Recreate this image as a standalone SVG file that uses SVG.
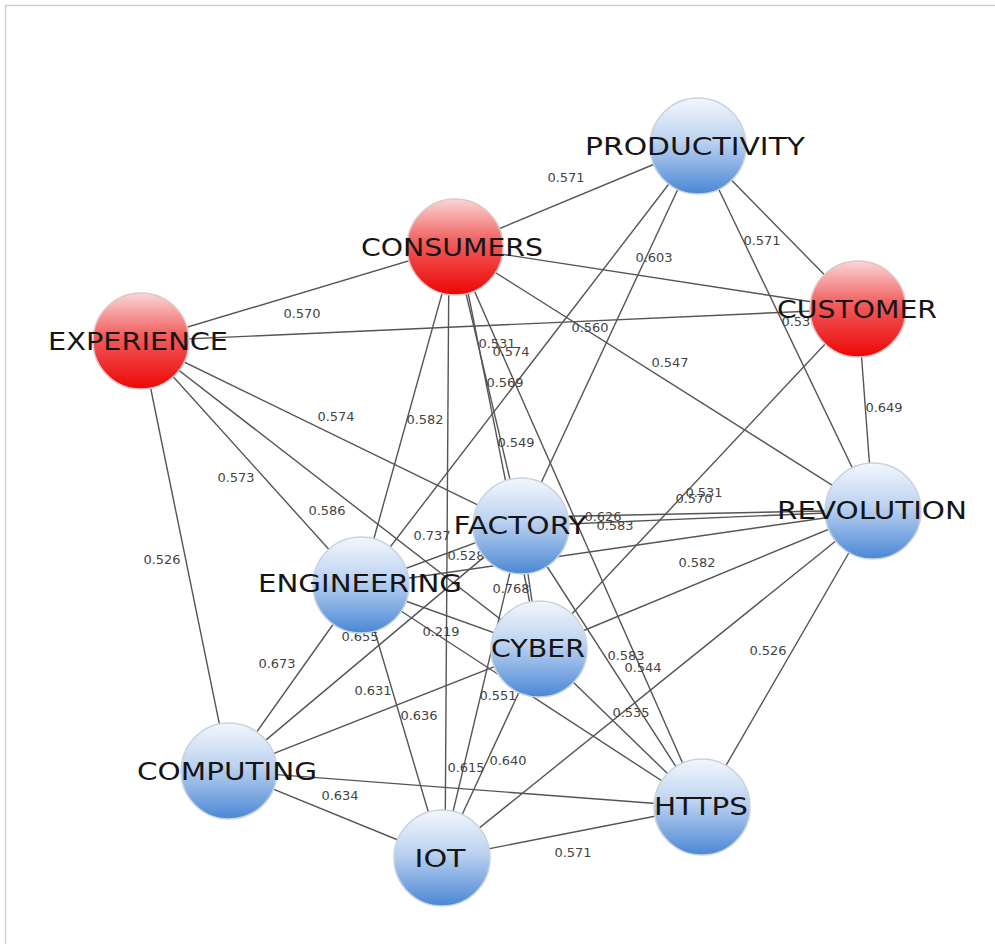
<svg xmlns="http://www.w3.org/2000/svg" width="995" height="944" viewBox="0 0 995 944">
<defs>
<linearGradient id="gBlue" x1="0" y1="0" x2="0" y2="1">
<stop offset="0" stop-color="#f3f7fd"/>
<stop offset="0.45" stop-color="#bcd2f0"/>
<stop offset="1" stop-color="#4a87d6"/>
</linearGradient>
<linearGradient id="gRed" x1="0" y1="0" x2="0" y2="1">
<stop offset="0" stop-color="#f9d6d6"/>
<stop offset="0.45" stop-color="#f25c5c"/>
<stop offset="1" stop-color="#ec0606"/>
</linearGradient>
</defs>
<style>
.e{stroke:#555;stroke-width:1.4;fill:none}
.w{font-family:"DejaVu Sans","Liberation Sans",sans-serif;font-size:13px;fill:#444;text-anchor:middle}
.b{fill:url(#gBlue);stroke:#c9d3de;stroke-width:1.5}
.r{fill:url(#gRed);stroke:#e3c4c4;stroke-width:1.5}
.t{font-family:"DejaVu Sans","Liberation Sans",sans-serif;font-size:25px;fill:#151515;text-anchor:middle}
</style>
<rect width="995" height="944" fill="#fff"/>
<path d="M5.5 944V5.5H995" stroke="#cfcfcf" stroke-width="1.5" fill="none"/>
<g id="connectors">
<line class="e" x1="455" y1="247" x2="698" y2="146"/>
<line class="e" x1="141" y1="341" x2="455" y2="247"/>
<line class="e" x1="455" y1="247" x2="858" y2="309"/>
<line class="e" x1="141" y1="341" x2="858" y2="309"/>
<line class="e" x1="698" y1="146" x2="858" y2="309"/>
<line class="e" x1="698" y1="146" x2="361" y2="585"/>
<line class="e" x1="698" y1="146" x2="521" y2="526"/>
<line class="e" x1="698" y1="146" x2="873" y2="511"/>
<line class="e" x1="455" y1="247" x2="873" y2="511"/>
<line class="e" x1="858" y1="309" x2="873" y2="511"/>
<line class="e" x1="858" y1="309" x2="539" y2="649"/>
<line class="e" x1="455" y1="247" x2="361" y2="585"/>
<line class="e" x1="449" y1="247" x2="445" y2="858"/>
<line class="e" x1="455" y1="247" x2="521" y2="526"/>
<line class="e" x1="459" y1="247" x2="539" y2="649"/>
<line class="e" x1="455" y1="247" x2="702" y2="807"/>
<line class="e" x1="141" y1="341" x2="521" y2="526"/>
<line class="e" x1="141" y1="341" x2="361" y2="585"/>
<line class="e" x1="141" y1="341" x2="539" y2="649"/>
<line class="e" x1="141" y1="341" x2="229" y2="771"/>
<line class="e" x1="361" y1="585" x2="521" y2="526"/>
<line class="e" x1="361" y1="585" x2="873" y2="511"/>
<line class="e" x1="361" y1="585" x2="539" y2="649"/>
<line class="e" x1="361" y1="585" x2="702" y2="807"/>
<line class="e" x1="361" y1="585" x2="229" y2="771"/>
<line class="e" x1="361" y1="585" x2="442" y2="858"/>
<line class="e" x1="521" y1="526" x2="539" y2="649"/>
<line class="e" x1="521" y1="526" x2="873" y2="511"/>
<line class="e" x1="530" y1="517" x2="873" y2="510"/>
<line class="e" x1="521" y1="526" x2="702" y2="807"/>
<line class="e" x1="521" y1="526" x2="442" y2="858"/>
<line class="e" x1="521" y1="526" x2="229" y2="771"/>
<line class="e" x1="539" y1="649" x2="873" y2="511"/>
<line class="e" x1="539" y1="649" x2="702" y2="807"/>
<line class="e" x1="539" y1="649" x2="229" y2="771"/>
<line class="e" x1="539" y1="649" x2="442" y2="858"/>
<line class="e" x1="873" y1="511" x2="702" y2="807"/>
<line class="e" x1="873" y1="511" x2="442" y2="858"/>
<line class="e" x1="229" y1="771" x2="702" y2="807"/>
<line class="e" x1="229" y1="771" x2="442" y2="858"/>
<line class="e" x1="442" y1="858" x2="702" y2="807"/>
</g>
<g id="weights">
<text class="w" x="566" y="182">0.571</text>
<text class="w" x="762" y="245">0.571</text>
<text class="w" x="654" y="262">0.603</text>
<text class="w" x="590" y="332">0.560</text>
<text class="w" x="670" y="367">0.547</text>
<text class="w" x="800" y="326">0.531</text>
<text class="w" x="302" y="318">0.570</text>
<text class="w" x="336" y="421">0.574</text>
<text class="w" x="236" y="482">0.573</text>
<text class="w" x="327" y="515">0.586</text>
<text class="w" x="162" y="564">0.526</text>
<text class="w" x="425" y="424">0.582</text>
<text class="w" x="497" y="348">0.531</text>
<text class="w" x="511" y="356">0.574</text>
<text class="w" x="505" y="387">0.569</text>
<text class="w" x="516" y="447">0.549</text>
<text class="w" x="884" y="412">0.649</text>
<text class="w" x="694" y="503">0.570</text>
<text class="w" x="704" y="497">0.531</text>
<text class="w" x="603" y="521">0.626</text>
<text class="w" x="615" y="530">0.583</text>
<text class="w" x="697" y="567">0.582</text>
<text class="w" x="432" y="540">0.737</text>
<text class="w" x="466" y="560">0.528</text>
<text class="w" x="511" y="593">0.768</text>
<text class="w" x="441" y="636">0.219</text>
<text class="w" x="360" y="641">0.655</text>
<text class="w" x="277" y="668">0.673</text>
<text class="w" x="373" y="695">0.631</text>
<text class="w" x="419" y="720">0.636</text>
<text class="w" x="498" y="700">0.551</text>
<text class="w" x="466" y="772">0.615</text>
<text class="w" x="508" y="765">0.640</text>
<text class="w" x="340" y="800">0.634</text>
<text class="w" x="626" y="660">0.583</text>
<text class="w" x="643" y="672">0.544</text>
<text class="w" x="631" y="717">0.535</text>
<text class="w" x="768" y="655">0.526</text>
<text class="w" x="573" y="857">0.571</text>
</g>
<g id="n-productivity"><circle class="b" cx="698" cy="146" r="48"/><text class="t" x="695" y="155" textLength="220" lengthAdjust="spacingAndGlyphs">PRODUCTIVITY</text></g>
<g id="n-consumers"><circle class="r" cx="455" cy="247" r="48"/><text class="t" x="452" y="256" textLength="182" lengthAdjust="spacingAndGlyphs">CONSUMERS</text></g>
<g id="n-customer"><circle class="r" cx="858" cy="309" r="48"/><text class="t" x="857" y="318" textLength="160" lengthAdjust="spacingAndGlyphs">CUSTOMER</text></g>
<g id="n-experience"><circle class="r" cx="141" cy="341" r="48"/><text class="t" x="138" y="350" textLength="180" lengthAdjust="spacingAndGlyphs">EXPERIENCE</text></g>
<g id="n-revolution"><circle class="b" cx="873" cy="511" r="48"/><text class="t" x="872" y="519" textLength="190" lengthAdjust="spacingAndGlyphs">REVOLUTION</text></g>
<g id="n-factory"><circle class="b" cx="521" cy="526" r="48"/><text class="t" x="520" y="534" textLength="133" lengthAdjust="spacingAndGlyphs">FACTORY</text></g>
<g id="n-engineering"><circle class="b" cx="361" cy="585" r="48"/><text class="t" x="360" y="592" textLength="204" lengthAdjust="spacingAndGlyphs">ENGINEERING</text></g>
<g id="n-cyber"><circle class="b" cx="539" cy="649" r="48"/><text class="t" x="538" y="657" textLength="94" lengthAdjust="spacingAndGlyphs">CYBER</text></g>
<g id="n-computing"><circle class="b" cx="229" cy="771" r="48"/><text class="t" x="227" y="780" textLength="180" lengthAdjust="spacingAndGlyphs">COMPUTING</text></g>
<g id="n-https"><circle class="b" cx="702" cy="807" r="48"/><text class="t" x="701" y="815" textLength="94" lengthAdjust="spacingAndGlyphs">HTTPS</text></g>
<g id="n-iot"><circle class="b" cx="442" cy="858" r="48"/><text class="t" x="440" y="867" textLength="51" lengthAdjust="spacingAndGlyphs">IOT</text></g>
</svg>
